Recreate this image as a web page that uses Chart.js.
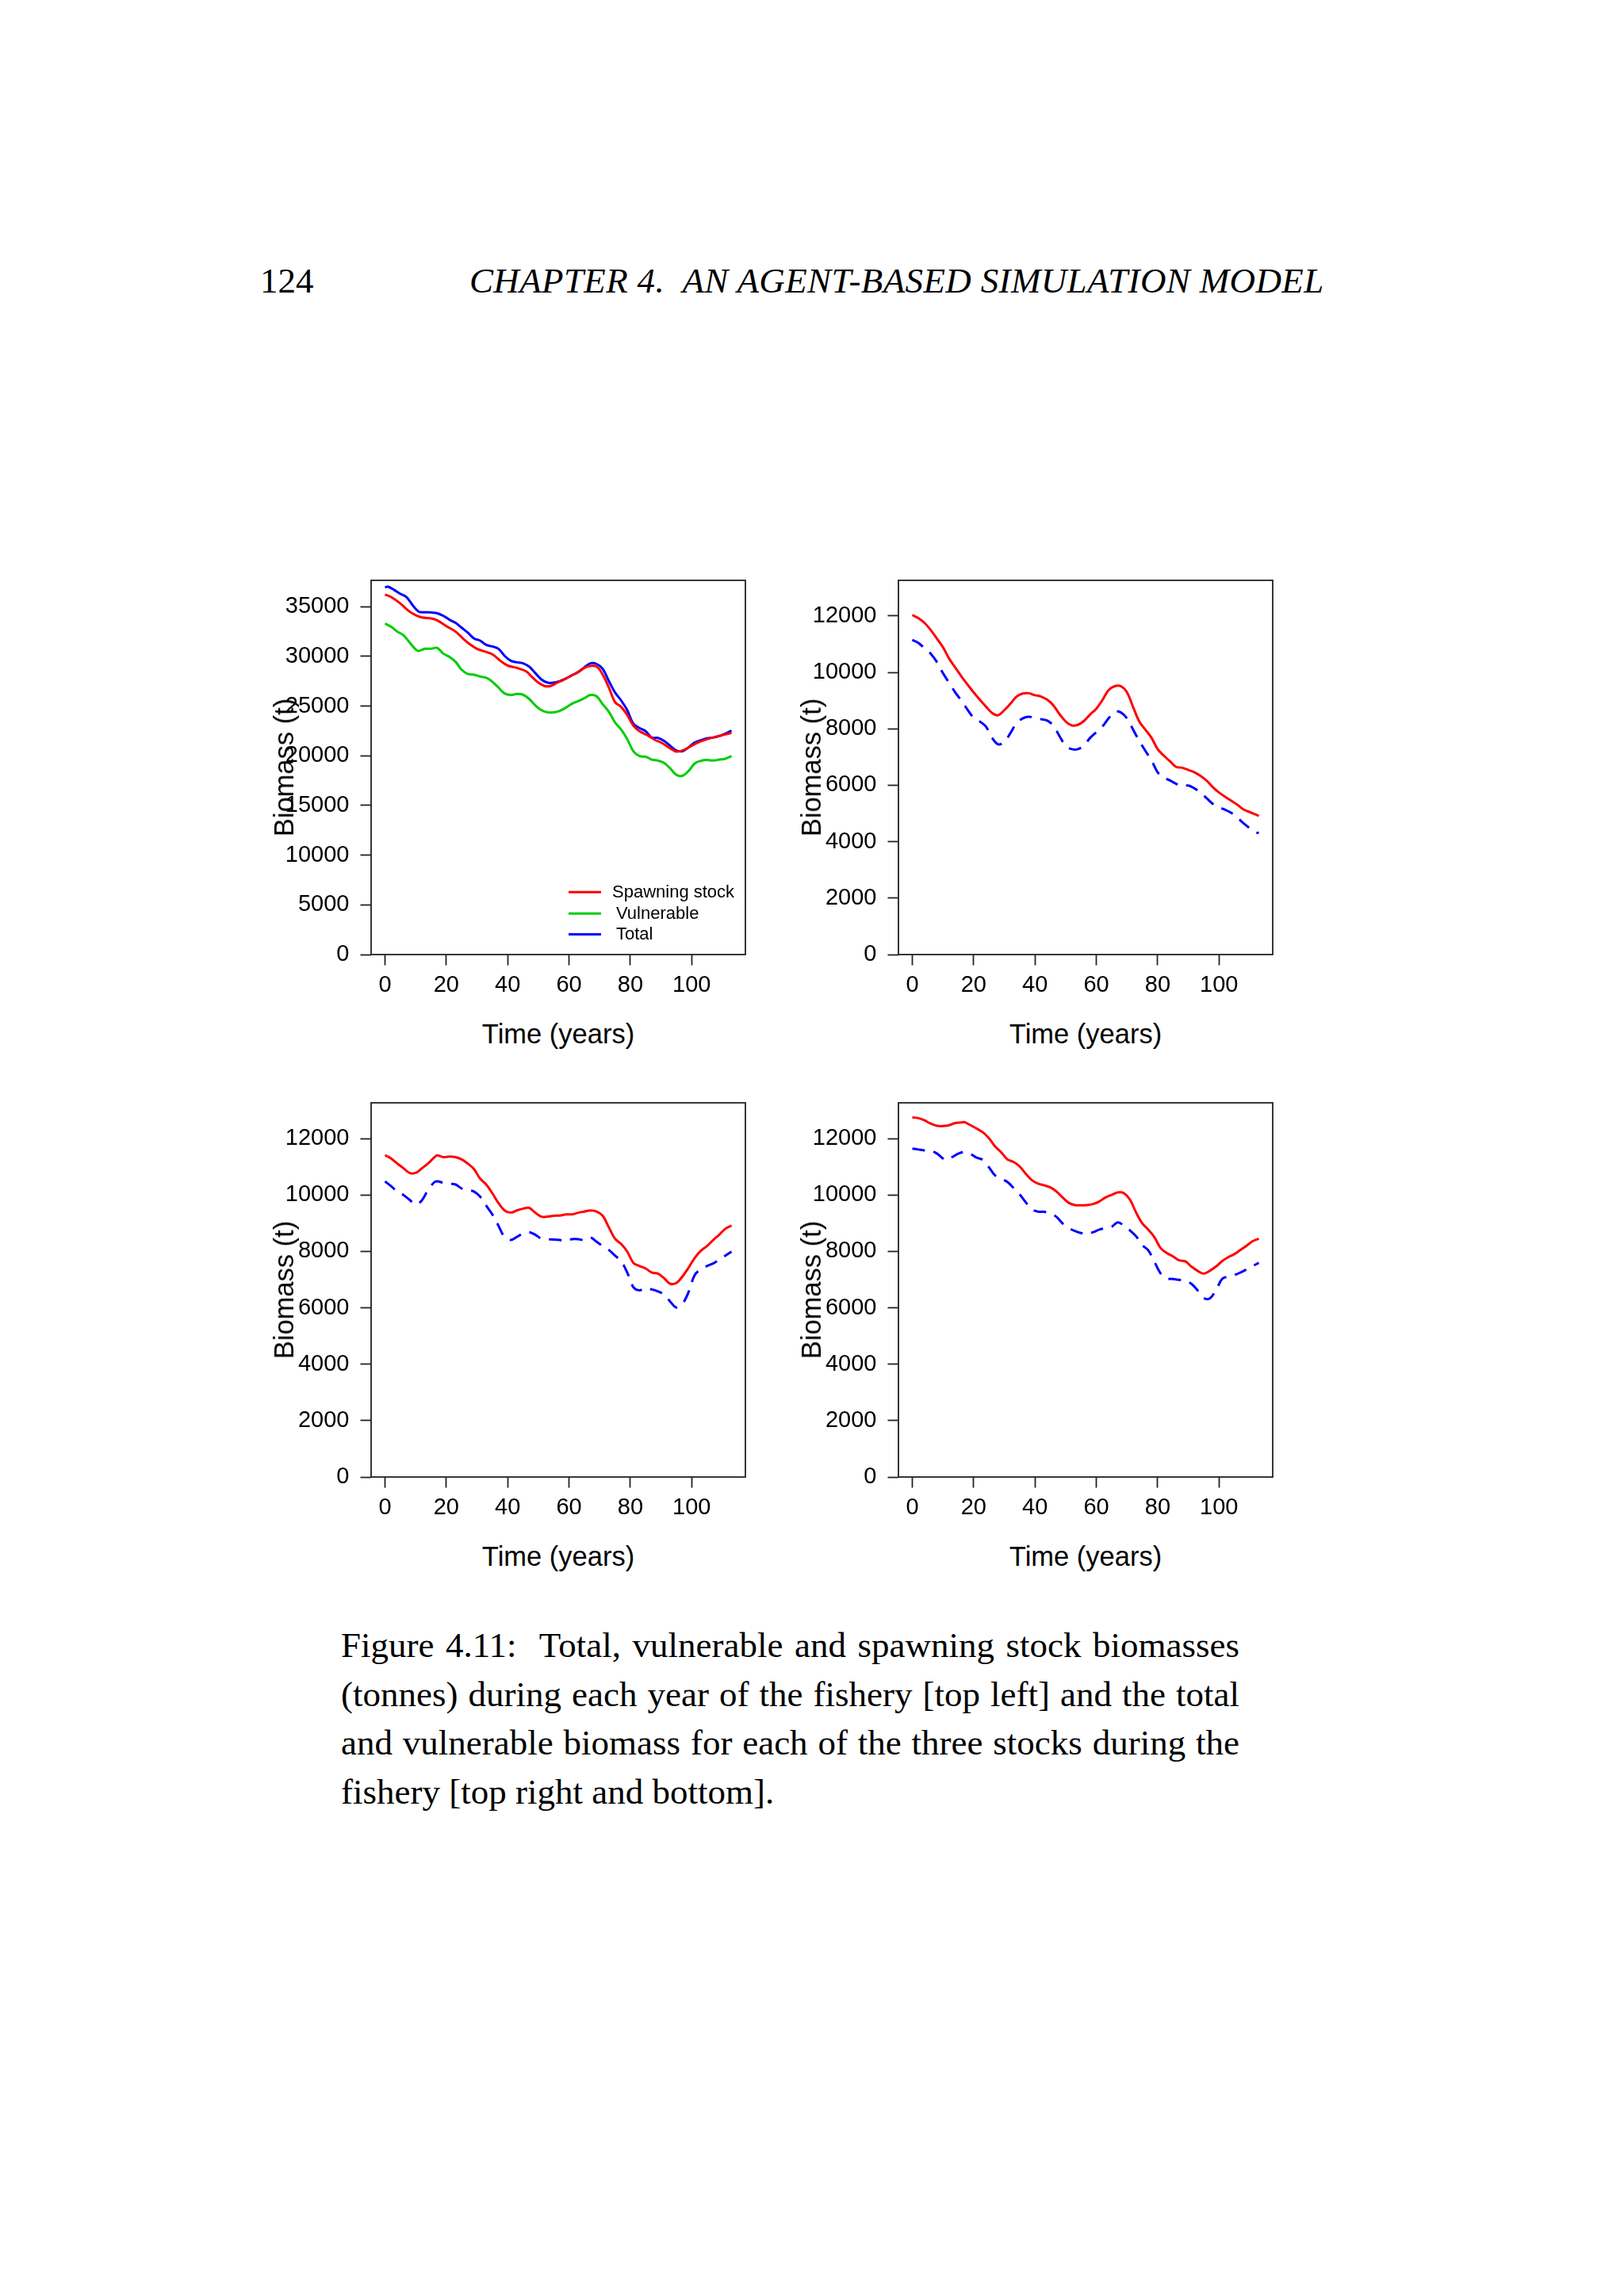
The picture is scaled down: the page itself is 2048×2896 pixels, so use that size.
<!DOCTYPE html>
<html><head><meta charset="utf-8">
<script src="https://cdn.jsdelivr.net/npm/chart.js@4.4.1/dist/chart.umd.min.js"></script>
<style>
html,body{margin:0;padding:0;background:#fff;}
#page{position:relative;width:2048px;height:2896px;background:#fff;overflow:hidden;}
.serif{font-family:"Liberation Serif","DejaVu Serif",serif;color:#000;position:absolute;}
.sans{font-family:"Liberation Sans",Arial,sans-serif;color:#000;position:absolute;white-space:nowrap;}
.cap{left:430px;width:1133px;font-size:45px;line-height:61.5px;text-align:justify;white-space:normal;}
.just{text-align-last:justify;}
canvas{position:absolute;}
</style></head><body><div id="page">
<div class="serif" style="left:328px;top:329px;font-size:45px;line-height:50px;">124</div>
<div class="serif" style="left:592px;top:329px;font-size:45px;line-height:50px;font-style:italic;white-space:pre;letter-spacing:0.36px;">CHAPTER 4.  AN AGENT-BASED SIMULATION MODEL</div>
<div class="serif cap just" style="top:2045px;">Figure 4.11:&nbsp; Total, vulnerable and spawning stock biomasses</div>
<div class="serif cap just" style="top:2106.5px;">(tonnes) during each year of the fishery [top left] and the total</div>
<div class="serif cap just" style="top:2168px;">and vulnerable biomass for each of the three stocks during the</div>
<div class="serif cap" style="top:2229.5px;">fishery [top right and bottom].</div>
</div>
<script>
// ---------- data ----------
const xTicks = [0, 20, 40, 60, 80, 100];
const yTicksTotal = [0, 5000, 10000, 15000, 20000, 25000, 30000, 35000];
const yTicksStock = [0, 2000, 4000, 6000, 8000, 10000, 12000];

const yrsA = [0,2,5,8,10,12,15,17,20,23,26,28,30,32,35,38,40,43,46,48,50,52,54,56,58,60,63,66,69,71,73,75,77,79,81,83,86,88,90,93,95,97,100,102,105,108,111,113];
const yrsB = [0,1,3,5,7,9,11,13,15,17,19,21,23,25,27,29,31,33,35,37,39,41,43,45,47,49,51,53,55,57,59,61,63,65,67,69,71,73,75,77,79,81,83,85,87,89,91,93,95,97,99,101,103,105,107,109,111,113];
const yrsC = [0,2,4,6,8,10,11,13,15,17,19,21,23,25,27,29,31,33,35,37,39,41,43,45,47,49,51,53,55,57,59,61,63,65,67,69,71,73,75,77,79,81,83,85,87,89,91,93,95,97,99,101,103,105,107,109,111,113];
const yrsD = [0,2,4,6,8,10,12,14,16,18,20,22,24,26,28,30,32,34,36,38,40,42,44,46,48,50,52,54,56,58,60,62,64,66,68,70,72,74,76,78,80,82,84,86,88,90,92,94,96,98,100,102,104,106,108,110,112,113];
const yrsE = [0,2,4,6,8,10,12,14,16,17,19,21,23,25,27,29,31,33,35,37,39,41,43,45,47,49,51,53,55,57,59,61,63,65,67,69,71,73,75,77,79,81,83,85,87,89,91,93,95,97,99,101,103,105,107,109,111,113];

// top left: whole fishery
const spawningStock = [36240,35980,35330,34515,34160,33930,33830,33640,33050,32500,31650,31160,30770,30550,30220,29470,29080,28850,28500,27910,27360,27030,27030,27330,27620,27940,28430,28980,28980,28170,26870,25400,24920,24100,23030,22480,21990,21600,21340,20750,20430,20530,21010,21340,21670,21930,22150,22320];
const vulnerableAll = [33310,32990,32500,32140,31420,30710,30550,30770,30770,30870,30290,29960,29470,28660,28240,28170,27980,27850,27460,26870,26280,26120,26220,26150,25730,25080,24590,24370,24370,24530,24850,25240,25500,25800,26120,25990,25180,24430,23360,22640,21670,20460,19970,19910,19620,19520,19290,18740,18090,17990,18480,19230,19490,19580,19520,19620,19710,19970];
const totalAll = [36950,37020,36690,36300,35980,35170,34510,34450,34420,34350,34090,33700,33380,32890,32400,31810,31590,31160,31000,30770,30060,29570,29410,29310,28980,28330,27680,27360,27360,27520,27780,28110,28430,28890,29310,29240,28760,27520,26380,25570,24590,23230,22800,22480,21830,21800,21500,21010,20530,20460,20850,21340,21570,21760,21830,21990,22220,22540];

// stock 1 (top right)
const stock1Total = [12030,11920,11750,11500,11200,10890,10490,10170,9860,9570,9290,9030,8790,8560,8480,8660,8890,9140,9250,9260,9190,9140,9030,8830,8520,8260,8120,8140,8280,8510,8710,9020,9370,9510,9510,9290,8770,8260,7970,7680,7280,7050,6850,6650,6620,6540,6460,6330,6160,5930,5740,5590,5450,5310,5140,5050,4960,4910];
const stock1Vuln = [11150,11040,10850,10660,10370,9970,9630,9290,9000,8680,8390,8260,8080,7680,7450,7530,7850,8200,8370,8430,8370,8340,8290,8110,7740,7400,7280,7280,7420,7680,7880,8080,8370,8600,8580,8370,7970,7570,7220,6880,6460,6270,6170,6050,5970,5990,5890,5740,5540,5340,5220,5130,5020,4850,4650,4480,4330,4310];

// stock 2 (bottom left)
const stock2Total = [11410,11290,11110,10950,10780,10780,10940,11110,11320,11400,11340,11360,11340,11260,11110,10920,10580,10370,10060,9710,9450,9370,9450,9510,9540,9370,9230,9230,9260,9270,9310,9310,9370,9410,9450,9410,9260,8850,8450,8260,7990,7590,7480,7390,7250,7210,7050,6850,6880,7110,7420,7770,8020,8190,8400,8590,8800,8910];
const stock2Vuln = [10480,10310,10120,10000,9830,9660,9800,10170,10440,10480,10430,10400,10370,10230,10170,10120,9940,9620,9310,8910,8510,8400,8510,8630,8680,8590,8450,8430,8420,8400,8370,8430,8430,8400,8490,8340,8190,8050,7850,7650,7250,6730,6620,6700,6650,6580,6470,6220,6010,6140,6560,7160,7360,7480,7570,7710,7850,7990];

// stock 3 (bottom right)
const stock3Total = [12750,12720,12640,12530,12450,12440,12470,12550,12570,12580,12470,12350,12220,12010,11720,11510,11260,11170,11010,10750,10520,10400,10340,10270,10120,9910,9720,9640,9630,9640,9680,9770,9910,10000,10090,10060,9830,9370,8990,8760,8490,8110,7940,7820,7680,7650,7460,7310,7210,7310,7460,7650,7790,7900,8050,8200,8360,8450];
const stock3Vuln = [11640,11610,11580,11570,11470,11290,11230,11340,11460,11520,11450,11320,11240,10980,10690,10580,10460,10250,10020,9740,9490,9410,9400,9340,9220,8990,8830,8720,8650,8620,8680,8770,8820,8870,9030,8910,8740,8530,8220,8030,7620,7210,7040,7020,6990,6960,6850,6620,6350,6330,6620,7020,7110,7160,7250,7360,7480,7590];

const legendLabels = ['Spawning stock', 'Vulnerable', 'Total'];
const xTitle = 'Time (years)';
const yTitle = 'Biomass (t)';

// ---------- layout / style ----------
const RED = '#ff0000', GREEN = '#00cd00', BLUE = '#0000ff';
const BOX = 472, PADL = 150, PADR = 12, PADT = 12, PADB = 70;
const FONT = "'Liberation Sans', Arial, sans-serif";
Chart.defaults.font.family = FONT;

function pts(xs, ys) { return xs.map((x, i) => ({x: x, y: ys[i]})); }

const framePlugin = {
  id: 'frame',
  afterDatasetsDraw(chart) {
    const {ctx, chartArea: a} = chart;
    ctx.save();
    ctx.strokeStyle = '#222'; ctx.lineWidth = 1.8;
    ctx.strokeRect(a.left, a.top, a.right - a.left, a.bottom - a.top);
    ctx.restore();
  }
};

const rLegendPlugin = {
  id: 'rlegend',
  afterDraw(chart, args, opts) {
    if (!opts || !opts.show) return;
    const {ctx, chartArea: a} = chart;
    const rows = [-78.7, -51.8, -25.6];
    const textX = [-168, -163, -163];
    ctx.save();
    ctx.font = '22px ' + FONT;
    ctx.textBaseline = 'middle';
    ctx.textAlign = 'left';
    chart.data.datasets.forEach((ds, i) => {
      const y = a.bottom + rows[i];
      ctx.strokeStyle = ds.borderColor; ctx.lineWidth = 3; ctx.setLineDash([]);
      ctx.beginPath(); ctx.moveTo(a.right - 223, y); ctx.lineTo(a.right - 182, y); ctx.stroke();
      ctx.fillStyle = '#000';
      ctx.fillText(ds.label, a.right + textX[i], y + 1);
    });
    ctx.restore();
  }
};

function makePanel(boxLeft, boxTop, yMax, yTicks, datasets, showLegend) {
  const page = document.getElementById('page');
  const cv = document.createElement('canvas');
  const W = PADL + BOX + PADR, H = PADT + BOX + PADB;
  cv.width = W; cv.height = H;
  cv.style.left = (boxLeft - PADL) + 'px';
  cv.style.top = (boxTop - PADT) + 'px';
  cv.style.width = W + 'px'; cv.style.height = H + 'px';
  page.appendChild(cv);

  new Chart(cv.getContext('2d'), {
    type: 'line',
    data: {datasets: datasets},
    options: {
      responsive: false, animation: false, devicePixelRatio: 1,
      layout: {padding: {left: 0, top: PADT, right: PADR, bottom: 0}},
      plugins: {legend: {display: false}, tooltip: {enabled: false}, rlegend: {show: showLegend}},
      elements: {point: {radius: 0}, line: {tension: 0.35}},
      scales: {
        x: {
          type: 'linear', min: -4.52, max: 117.52,
          afterBuildTicks: s => { s.ticks = xTicks.map(v => ({value: v})); },
          afterFit: s => { s.height = PADB; s.paddingLeft = 0; s.paddingRight = 0; s.paddingTop = 0; s.paddingBottom = 0; },
          grid: {display: true, drawOnChartArea: false, drawTicks: true, tickLength: 13.5, tickWidth: 1.8, tickColor: '#222'},
          border: {display: false},
          ticks: {color: '#000', font: {size: 29, family: FONT}, padding: 8.5, maxRotation: 0, autoSkip: false, callback: v => String(v)}
        },
        y: {
          type: 'linear', min: 0, max: yMax,
          afterBuildTicks: s => { s.ticks = yTicks.map(v => ({value: v})); },
          afterFit: s => { s.width = PADL; s.paddingTop = 0; s.paddingBottom = 0; s.paddingLeft = 0; s.paddingRight = 0; },
          grid: {display: true, drawOnChartArea: false, drawTicks: true, tickLength: 13.5, tickWidth: 1.8, tickColor: '#222'},
          border: {display: false},
          ticks: {color: '#000', font: {size: 29, family: FONT}, padding: 14, autoSkip: false, callback: v => String(v)}
        }
      }
    },
    plugins: [framePlugin, rLegendPlugin]
  });

  // axis titles
  const xt = document.createElement('div');
  xt.className = 'sans'; xt.textContent = xTitle;
  xt.style.cssText += 'font-size:34.5px;line-height:40px;left:' + (boxLeft + BOX / 2) + 'px;top:' + (boxTop + BOX + 112 - 32) + 'px;transform:translateX(-50%);';
  page.appendChild(xt);
  const yt = document.createElement('div');
  yt.className = 'sans'; yt.textContent = yTitle;
  yt.style.cssText += 'font-size:34.5px;line-height:40px;left:' + (boxLeft - 110.2) + 'px;top:' + (boxTop + BOX / 2) + 'px;transform:translate(-50%,-50%) rotate(-90deg);';
  page.appendChild(yt);
}

function solid(label, xs, ys, color) {
  return {label: label, data: pts(xs, ys), borderColor: color, borderWidth: 3, fill: false};
}
function dashed(label, xs, ys, color) {
  return {label: label, data: pts(xs, ys), borderColor: color, borderWidth: 3, borderDash: [16, 11], fill: false};
}

makePanel(468, 732, 37657, yTicksTotal, [
  solid(legendLabels[0], yrsA, spawningStock, RED),
  solid(legendLabels[1], yrsC, vulnerableAll, GREEN),
  solid(legendLabels[2], yrsB, totalAll, BLUE)
], true);
makePanel(1133, 732, 13260, yTicksStock, [
  solid('Total', yrsD, stock1Total, RED),
  dashed('Vulnerable', yrsD, stock1Vuln, BLUE)
], false);
makePanel(468, 1391, 13265, yTicksStock, [
  solid('Total', yrsE, stock2Total, RED),
  dashed('Vulnerable', yrsE, stock2Vuln, BLUE)
], false);
makePanel(1133, 1391, 13265, yTicksStock, [
  solid('Total', yrsE, stock3Total, RED),
  dashed('Vulnerable', yrsC, stock3Vuln, BLUE)
], false);
</script>
</body></html>
